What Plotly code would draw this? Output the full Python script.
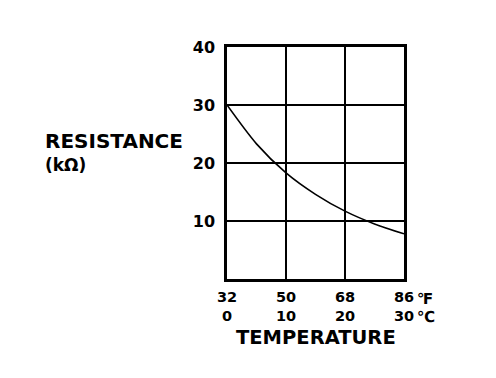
import plotly.graph_objects as go

# Data
temp_c = [0, 5, 10, 15, 20, 25, 30]
resistance_kohm = [30.0, 23.3, 18.3, 14.6, 11.7, 9.5, 7.8]

x_tick_c = [0, 10, 20, 30]
x_tick_f = ["32", "50", "68", "86"]
y_ticks = [10, 20, 30, 40]

FONT = "DejaVu Sans"
PH = 232.0  # plot height in px


def py(p):
    # pixel offset below/above plot bottom -> paper coordinate
    return p / PH


fig = go.Figure()
fig.add_trace(go.Scatter(
    x=temp_c, y=resistance_kohm, mode="lines",
    line=dict(color="black", width=1.6, shape="spline", smoothing=0.8),
    hoverinfo="skip", showlegend=False,
))

fig.update_layout(
    width=496, height=378,
    margin=dict(l=219, r=100, t=39, b=107),
    paper_bgcolor="white", plot_bgcolor="white",
    font=dict(family=FONT, color="black"),
    xaxis=dict(
        range=[0, 30], tickvals=x_tick_c,
        ticktext=[f"<b>{f}</b><br><b>{c}</b>" for f, c in zip(x_tick_f, x_tick_c)],
        showgrid=True, gridcolor="black", gridwidth=2,
        showline=True, linecolor="black", linewidth=2.5, mirror=True,
        ticks="", ticklabelstandoff=3,
        tickfont=dict(family=FONT, size=14.5, color="black"),
        zeroline=False, fixedrange=True,
    ),
    yaxis=dict(
        range=[0, 40], tickvals=y_ticks,
        ticktext=[f"<b>{v}</b>" for v in y_ticks],
        showgrid=True, gridcolor="black", gridwidth=2,
        showline=True, linecolor="black", linewidth=2.5, mirror=True,
        ticks="", ticklabelstandoff=6,
        tickfont=dict(family=FONT, size=16, color="black"),
        zeroline=False, fixedrange=True,
    ),
    annotations=[
        dict(text="<b>TEMPERATURE</b>", xref="paper", yref="paper",
             x=0.5, y=py(-58), xanchor="center", yanchor="middle",
             showarrow=False, font=dict(family=FONT, size=19.5, color="black")),
        dict(text="<b>RESISTANCE</b>", xref="paper", yref="paper",
             x=-184 / 177, y=py(138.5), xanchor="left", yanchor="middle",
             showarrow=False, font=dict(family=FONT, size=20, color="black")),
        dict(text="<b>(kΩ)</b>", xref="paper", yref="paper",
             x=-184 / 177, y=py(114), xanchor="left", yanchor="middle",
             showarrow=False, font=dict(family=FONT, size=17, color="black")),
        dict(text="<b>℉</b>", xref="x", yref="paper",
             x=30, y=py(-20), xanchor="left", yanchor="middle",
             xshift=11, showarrow=False,
             font=dict(family=FONT, size=15, color="black")),
        dict(text="<b>℃</b>", xref="x", yref="paper",
             x=30, y=py(-38), xanchor="left", yanchor="middle",
             xshift=11, showarrow=False,
             font=dict(family=FONT, size=15, color="black")),
    ],
)

fig.write_html("out.html")
